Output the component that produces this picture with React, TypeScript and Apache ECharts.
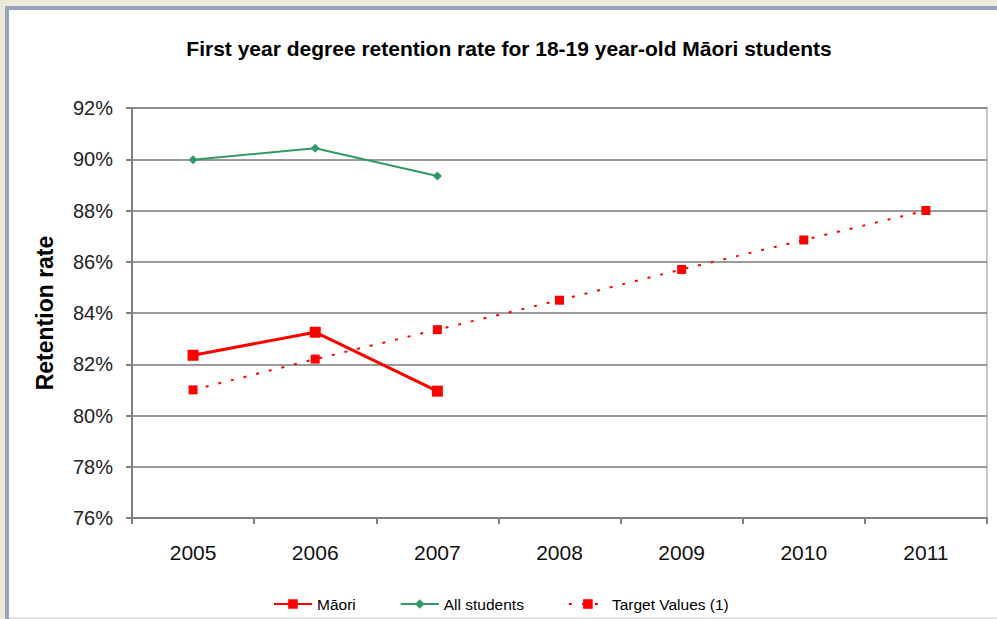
import React, { useEffect, useRef } from "react";
import * as echarts from "echarts";

const years = ["2005", "2006", "2007", "2008", "2009", "2010", "2011"];
const maori = [82.35, 83.25, 80.95, null, null, null, null];
const allStudents = [89.98, 90.43, 89.35, null, null, null, null];
const targetValues = [81.0, 82.2, 83.35, 84.5, 85.7, 86.85, 88.0];
const seriesNames = ["Māori", "All students", "Target Values (1)"];
const titleText = "First year degree retention rate for 18-19 year-old Māori students";
const yAxisName = "Retention rate";

export default function App() {
  const ref = useRef<HTMLDivElement>(null);
  useEffect(() => {
    document.body.style.margin = "0";
    const chart = echarts.init(ref.current!, null, { renderer: "svg" });
    const font = "Arial, 'Liberation Sans', sans-serif";
    chart.setOption({
      animation: false,
      backgroundColor: "#ffffff",
      textStyle: { fontFamily: font },
      graphic: [
        { type: "rect", shape: { x: 0, y: 0, width: 997, height: 6 }, style: { fill: "#ECE9D8" }, silent: true },
        { type: "rect", shape: { x: 0, y: 0, width: 5, height: 619 }, style: { fill: "#ECE9D8" }, silent: true },
        { type: "rect", shape: { x: 5, y: 6, width: 992, height: 4 }, style: { fill: "#9AA3BC" }, silent: true },
        { type: "rect", shape: { x: 5, y: 6, width: 4, height: 613 }, style: { fill: "#9AA3BC" }, silent: true },
        { type: "rect", shape: { x: 9, y: 617, width: 988, height: 2 }, style: { fill: "#E4E4E4" }, silent: true },
      ],
      title: {
        text: titleText,
        left: 504,
        textAlign: "center",
        top: 33,
        textStyle: { fontFamily: font, fontSize: 21, fontWeight: "bold", color: "#000" },
      },
      legend: {
        top: 591,
        left: 268,
        itemWidth: 38,
        itemHeight: 12,
        itemGap: 44,
        textStyle: { fontFamily: font, fontSize: 15.5, color: "#000" },
        data: seriesNames,
      },
      grid: {
        left: 132,
        top: 108,
        right: 10,
        bottom: 101,
        show: true,
        borderColor: "#C8C8C8",
        borderWidth: 2,
        backgroundColor: "transparent",
      },
      xAxis: {
        type: "category",
        data: years,
        boundaryGap: true,
        axisLine: { lineStyle: { color: "#808080", width: 2 } },
        axisTick: { show: true, length: 6, lineStyle: { color: "#808080", width: 2 } },
        axisLabel: { fontFamily: font, fontSize: 21, color: "#111", margin: 24 },
      },
      yAxis: {
        type: "value",
        min: 76,
        max: 92,
        interval: 2,
        name: yAxisName,
        nameLocation: "middle",
        nameRotate: 90,
        nameGap: 76,
        nameTextStyle: { fontFamily: font, fontSize: 23, fontWeight: "bold", color: "#000" },
        axisLine: { show: true, lineStyle: { color: "#808080", width: 2 } },
        axisTick: { show: true, length: 6, lineStyle: { color: "#808080", width: 2 } },
        axisLabel: {
          fontFamily: font,
          fontSize: 20,
          color: "#222",
          margin: 19,
          formatter: (v: number) => v + "%",
        },
        splitLine: { show: true, lineStyle: { color: "#7A7A7A", width: 1.5 } },
      },
      series: [
        {
          name: seriesNames[0],
          type: "line",
          data: maori,
          color: "#FF0000",
          symbol: "rect",
          symbolSize: 11,
          lineStyle: { color: "#FF0000", width: 3 },
          itemStyle: { color: "#FF0000" },
          z: 4,
        },
        {
          name: seriesNames[1],
          type: "line",
          data: allStudents,
          color: "#339966",
          symbol: "diamond",
          symbolSize: 9,
          lineStyle: { color: "#339966", width: 2 },
          itemStyle: { color: "#339966" },
          z: 3,
        },
        {
          name: seriesNames[2],
          type: "line",
          data: targetValues,
          color: "#FF0000",
          symbol: "rect",
          symbolSize: 9,
          lineStyle: { color: "#FF0000", width: 2, type: [3, 10] },
          itemStyle: { color: "#FF0000" },
          z: 2,
        },
      ],
    });
    return () => chart.dispose();
  }, []);
  return (
    <div
      ref={ref}
      style={{ position: "absolute", left: 0, top: 0, width: 997, height: 619 }}
    />
  );
}
